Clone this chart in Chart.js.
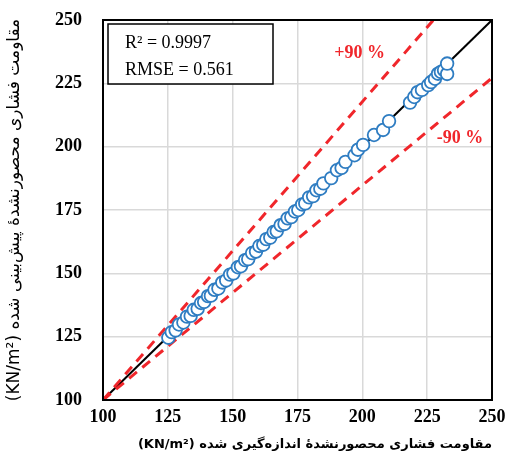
<!DOCTYPE html>
<html>
<head>
<meta charset="utf-8">
<script src="https://cdn.jsdelivr.net/npm/chart.js@4.4.1/dist/chart.umd.min.js"></script>
<style>
  html, body { margin: 0; padding: 0; background: #fff; }
  #wrap { width: 510px; height: 466px; }
</style>
</head>
<body>
<div id="wrap"><canvas id="chart"></canvas></div>
<script>
const measured = [
    125.2, 126.5, 128.0, 129.3, 131.0, 132.4, 133.8, 135.0, 136.5, 137.8,
    139.0, 140.5, 141.6, 143.0, 144.5, 146.0, 147.5, 149.0, 150.3, 152.0,
    153.2, 154.8, 156.0, 157.5, 159.0, 160.3, 161.8, 163.0, 164.5, 165.8,
    167.0, 168.5, 170.0, 171.2, 172.6, 174.0, 175.3, 176.8, 178.0, 179.5,
    181.0, 182.3, 183.8, 185.0, 188.0, 190.2, 192.0, 193.5, 197.0, 198.3,
    200.3, 204.5, 208.0, 210.3, 218.4, 220.0, 221.3, 223.0, 225.4, 226.5,
    228.0, 229.2, 230.3, 231.5, 232.7, 232.7
];
const predicted = [
    124.6, 126.8, 127.5, 129.8, 130.6, 132.9, 133.2, 135.6, 136.0, 138.3,
    138.7, 141.0, 141.2, 143.5, 144.0, 146.4, 147.2, 149.5, 150.0, 152.4,
    152.8, 155.2, 155.6, 158.0, 158.6, 160.8, 161.3, 163.5, 164.1, 166.3,
    166.6, 169.0, 169.5, 171.7, 172.2, 174.4, 175.0, 177.2, 177.6, 180.0,
    180.5, 182.8, 183.4, 185.5, 187.6, 190.7, 191.6, 194.0, 196.6, 198.8,
    200.7, 204.6, 206.6, 210.1, 217.4, 219.6, 221.5, 222.4, 224.3, 225.5,
    226.8, 228.8, 229.5, 230.2, 228.7, 232.8
];
const axisTicks = [100, 125, 150, 175, 200, 225, 250];

// reference lines: 1:1 line and the two dashed bounds
const idealX = [100, 250];
const idealY = [100, 250];
const upperX = [100, 227.4];
const upperY = [100, 250];
const lowerX = [100, 250];
const lowerY = [100, 227.1];

const statLines = ['R\u00b2 = 0.9997', 'RMSE = 0.561'];
const boundLabels = ['+90 %', '-90 %'];

const xTitle = '\u202Bمقاومت فشاری محصورنشدهٔ اندازه‌گیری شده (KN/m\u00b2)\u202C';
const yTitle = '\u202Bمقاومت فشاری محصورنشدهٔ پیش‌بینی شده (KN/m\u00b2)\u202C';

function toPoints(xs, ys) {
    return xs.map((x, i) => ({ x: x, y: ys[i] }));
}

const red = '#f0262b';
const blue = '#2f7dc2';

// frame, stats box and bound labels
const extras = {
    id: 'extras',
    afterDatasetsDraw(chart) {
        const ctx = chart.ctx;
        const a = chart.chartArea;
        const xs = chart.scales.x;
        const ys = chart.scales.y;
        ctx.save();
        ctx.direction = 'ltr';

        ctx.strokeStyle = '#000';
        ctx.lineWidth = 2;
        ctx.strokeRect(a.left, a.top, a.right - a.left, a.bottom - a.top);

        // stats box
        ctx.fillStyle = '#fff';
        ctx.fillRect(a.left + 5, a.top + 4, 165, 60);
        ctx.lineWidth = 1.5;
        ctx.strokeRect(a.left + 5, a.top + 4, 165, 60);
        ctx.fillStyle = '#000';
        ctx.font = '18px "Liberation Serif"';
        ctx.textAlign = 'left';
        ctx.textBaseline = 'middle';
        ctx.fillText(statLines[0], a.left + 22, a.top + 23);
        ctx.fillText(statLines[1], a.left + 22, a.top + 50);

        // bound labels
        ctx.fillStyle = red;
        ctx.font = 'bold 18px "Liberation Serif"';
        ctx.textAlign = 'center';
        ctx.fillText(boundLabels[0], xs.getPixelForValue(199), ys.getPixelForValue(237));
        ctx.fillText(boundLabels[1], xs.getPixelForValue(237.7), ys.getPixelForValue(203.4));
        ctx.restore();
    }
};

const tickFont = { family: '"Liberation Serif"', size: 18, weight: 'bold' };

new Chart(document.getElementById('chart').getContext('2d'), {
    type: 'scatter',
    data: {
        datasets: [
            {
                label: 'data',
                data: toPoints(measured, predicted),
                pointRadius: 6.3,
                pointBorderWidth: 1.8,
                pointBorderColor: blue,
                pointBackgroundColor: '#fff',
                order: 0
            },
            {
                label: 'ideal',
                type: 'line',
                data: toPoints(idealX, idealY),
                borderColor: '#000',
                borderWidth: 2,
                pointRadius: 0,
                order: 3
            },
            {
                label: 'upper',
                type: 'line',
                data: toPoints(upperX, upperY),
                borderColor: red,
                borderWidth: 3,
                borderDash: [10, 7],
                pointRadius: 0,
                order: 2
            },
            {
                label: 'lower',
                type: 'line',
                data: toPoints(lowerX, lowerY),
                borderColor: red,
                borderWidth: 3,
                borderDash: [10, 7],
                pointRadius: 0,
                order: 2
            }
        ]
    },
    options: {
        responsive: true,
        maintainAspectRatio: false,
        animation: false,
        layout: { padding: { top: 20, right: 18, left: 0, bottom: 0 } },
        plugins: {
            legend: { display: false },
            tooltip: { enabled: false }
        },
        scales: {
            x: {
                type: 'linear',
                min: 100,
                max: 250,
                afterBuildTicks: (scale) => { scale.ticks = axisTicks.map(v => ({ value: v })); },
                grid: { color: '#d9d9d9', lineWidth: 1.5, drawTicks: false },
                border: { display: false },
                ticks: { color: '#000', font: tickFont, padding: 7 },
                title: {
                    display: true,
                    text: xTitle,
                    align: 'end',
                    color: '#000',
                    font: { family: '"DejaVu Sans"', size: 13, weight: 'bold' },
                    padding: { top: 2, bottom: 14 }
                },
                afterFit: (scale) => {
                    scale.height = 66;
                    scale.paddingLeft = 0;
                    scale.paddingRight = 0;
                }
            },
            y: {
                type: 'linear',
                min: 100,
                max: 250,
                afterBuildTicks: (scale) => { scale.ticks = axisTicks.map(v => ({ value: v })); },
                grid: { color: '#d9d9d9', lineWidth: 1.5, drawTicks: false },
                border: { display: false },
                ticks: { color: '#000', font: tickFont, padding: 21 },
                title: {
                    display: true,
                    text: yTitle,
                    color: '#000',
                    font: { family: '"DejaVu Sans"', size: 17 },
                    padding: { top: 4, bottom: 0 }
                },
                afterFit: (scale) => {
                    scale.width = 103;
                    scale.paddingTop = 0;
                    scale.paddingBottom = 0;
                }
            }
        }
    },
    plugins: [extras]
});
</script>
</body>
</html>
